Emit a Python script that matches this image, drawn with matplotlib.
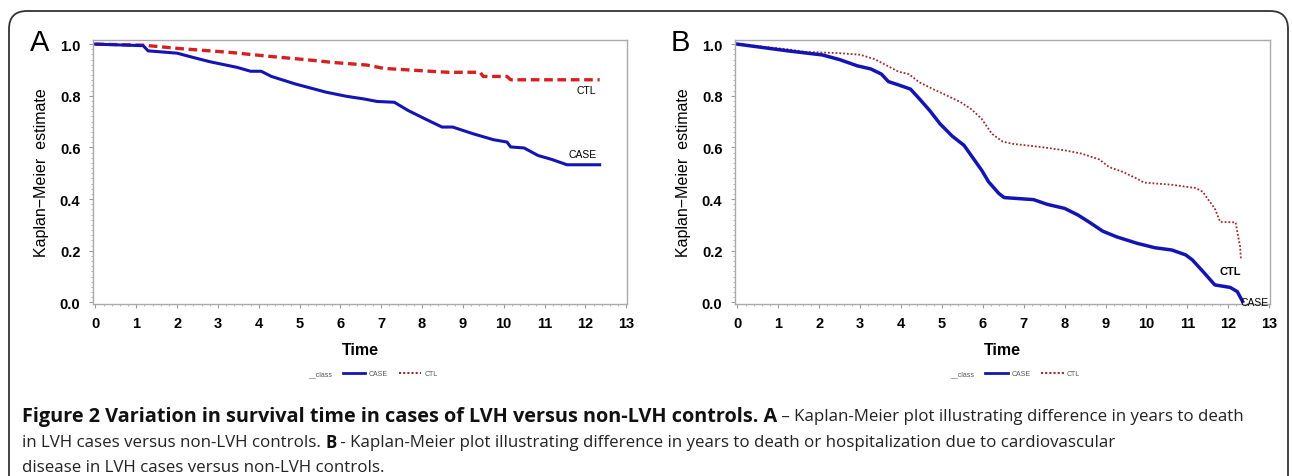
import matplotlib
matplotlib.use("Agg")
import matplotlib.pyplot as plt
from matplotlib.patches import FancyBboxPatch
from matplotlib.transforms import IdentityTransform
from matplotlib.lines import Line2D
from matplotlib.ticker import MultipleLocator

# ---------------- data ----------------
a_case_t = [0, 1.17, 1.29, 2.0, 2.38, 2.8, 3.47, 3.8, 4.06, 4.31, 4.89, 5.65, 6.15, 6.57, 6.9, 7.32,
            7.66, 8.16, 8.49, 8.75, 9.25, 9.75, 10.08, 10.17, 10.5, 10.84, 11.17, 11.55, 12.35]
a_case_s = [1.0, 0.994, 0.974, 0.965, 0.949, 0.932, 0.91, 0.895, 0.895, 0.875, 0.846, 0.814, 0.798,
            0.788, 0.778, 0.775, 0.743, 0.704, 0.679, 0.679, 0.653, 0.63, 0.621, 0.602, 0.598, 0.569,
            0.554, 0.533, 0.533]
a_ctl_t = [0, 1.17, 2.05, 3.3, 4.31, 5.15, 5.82, 6.65, 7.07, 8.41, 8.66, 9.42, 9.5, 10.08, 10.17, 12.35]
a_ctl_s = [1.0, 0.996, 0.983, 0.968, 0.952, 0.94, 0.929, 0.919, 0.906, 0.893, 0.891, 0.891, 0.875,
           0.875, 0.862, 0.862]

b_case_t = [0, 1.23, 2.08, 2.5, 2.93, 3.26, 3.52, 3.69, 3.94, 4.23, 4.45, 4.7, 4.95, 5.25, 5.54, 5.8,
            5.97, 6.14, 6.39, 6.52, 7.24, 7.57, 8.0, 8.33, 8.59, 8.93, 9.27, 9.77, 10.2, 10.62, 10.96,
            11.12, 11.38, 11.67, 12.05, 12.22, 12.35]
b_case_s = [1.0, 0.974, 0.958, 0.94, 0.916, 0.904, 0.884, 0.855, 0.842, 0.826, 0.788, 0.743, 0.692,
            0.644, 0.608, 0.55, 0.512, 0.467, 0.422, 0.406, 0.398, 0.38, 0.364, 0.338, 0.312, 0.276,
            0.254, 0.229, 0.212, 0.203, 0.184, 0.165, 0.12, 0.068, 0.058, 0.042, 0.004]
b_ctl_t = [0, 1.23, 1.66, 2.5, 3.0, 3.35, 3.69, 3.94, 4.19, 4.45, 4.78, 5.04, 5.46, 5.71, 5.97, 6.22,
           6.48, 6.73, 7.4, 8.0, 8.42, 8.84, 9.09, 9.43, 9.77, 9.94, 10.6, 11.2, 11.38, 11.55, 11.67,
           11.8, 12.18, 12.22, 12.29, 12.31]
b_ctl_s = [1.0, 0.98, 0.97, 0.965, 0.959, 0.942, 0.914, 0.893, 0.884, 0.852, 0.826, 0.807, 0.775,
           0.749, 0.711, 0.653, 0.623, 0.614, 0.602, 0.589, 0.576, 0.554, 0.524, 0.505, 0.479, 0.464,
           0.456, 0.443, 0.428, 0.389, 0.364, 0.312, 0.31, 0.274, 0.216, 0.165]

x_ticks = list(range(0, 14))
y_ticks = [0.0, 0.2, 0.4, 0.6, 0.8, 1.0]
y_ticklabels = ["0.0", "0.2", "0.4", "0.6", "0.8", "1.0"]

caption_bold = "Figure 2 Variation in survival time in cases of LVH versus non-LVH controls. A"
caption_rest1 = " \u2013 Kaplan-Meier plot illustrating difference in years to death"
caption_line2a = "in LVH cases versus non-LVH controls. "
caption_line2b = "B"
caption_line2c = " - Kaplan-Meier plot illustrating difference in years to death or hospitalization due to cardiovascular"
caption_line3 = "disease in LVH cases versus non-LVH controls."

# ---------------- figure ----------------
W, H = 1292, 477
fig = plt.figure(figsize=(W / 100, H / 100), dpi=100)
fig.patch.set_facecolor("white")

frame = FancyBboxPatch((9, -40), 1279, 505, boxstyle="round,pad=0,rounding_size=18",
                       transform=IdentityTransform(), fill=False, edgecolor="#333333", lw=1.3)
fig.patches.append(frame)

BLUE = "#1414b4"
RED = "#d42020"
DKRED = "#9a2c2c"
TICKFONT = "Liberation Sans"


def style_axes(ax):
    ax.set_xlim(-0.06, 13.02)
    ax.set_ylim(-0.006, 1.016)
    ax.set_xticks(x_ticks)
    ax.set_xticklabels([str(t) for t in x_ticks], fontsize=10.5, fontweight="bold", family=TICKFONT)
    ax.set_yticks(y_ticks)
    ax.set_yticklabels(y_ticklabels, fontsize=10.5, fontweight="bold", family=TICKFONT)
    ax.xaxis.set_minor_locator(MultipleLocator(0.2))
    ax.yaxis.set_minor_locator(MultipleLocator(0.02))
    ax.tick_params(which="major", length=3, width=0.8, color="#999999", pad=6)
    ax.tick_params(which="minor", length=1.5, width=0.6, color="#aaaaaa")
    for s in ax.spines.values():
        s.set_color("#aaaaaa")
        s.set_linewidth(1.0)
    ax.set_xlabel("Time", fontsize=11.5, fontweight="bold", family=TICKFONT, labelpad=8)
    ax.set_ylabel("Kaplan\u2212Meier  estimate", fontsize=11.5, family=TICKFONT, labelpad=8)


# Panel A
axA = fig.add_axes([93 / W, 1 - 305 / H, 534 / W, 264 / H])
axA.plot(a_ctl_t, a_ctl_s, color=RED, lw=2.4, linestyle=(0, (2.6, 1.4)))
axA.plot(a_case_t, a_case_s, color=BLUE, lw=2.2)
style_axes(axA)
axA.text(12.03, 0.824, "CTL", fontsize=7.5, family=TICKFONT, ha="center", va="center")
axA.text(11.93, 0.573, "CASE", fontsize=7.5, family=TICKFONT, ha="center", va="center")

# Panel B
axB = fig.add_axes([735 / W, 1 - 305 / H, 535 / W, 264 / H])
axB.plot(b_ctl_t, b_ctl_s, color=DKRED, lw=1.3, linestyle=(0, (1, 1.1)))
axB.plot(b_case_t, b_case_s, color=BLUE, lw=2.5)
style_axes(axB)
axB.text(12.06, 0.12, "CTL", fontsize=8, fontweight="bold", family=TICKFONT, ha="center", va="center")
axB.text(12.65, 0.0, "CASE", fontsize=7.5, family=TICKFONT, ha="center", va="center")

# Panel letters
fig.text(30 / W, 1 - 43 / H, "A", fontsize=21, family=TICKFONT, va="center", ha="left")
fig.text(671 / W, 1 - 43 / H, "B", fontsize=21, family=TICKFONT, va="center", ha="left")

# Legends below axes
for ax in (axA, axB):
    handles = [Line2D([], [], color="none"),
               Line2D([], [], color=BLUE, lw=2),
               Line2D([], [], color=DKRED, lw=1.5, linestyle=(0, (1, 1)))]
    leg = ax.legend(handles, ["__class", "CASE", "CTL"], loc="center", bbox_to_anchor=(0.5, -0.265),
                    ncol=3, frameon=False, handlelength=3.2, handletextpad=0.5,
                    columnspacing=1.6, prop={"family": TICKFONT, "size": 5})
    for t in leg.get_texts():
        t.set_color("#555555")

# Caption
r = fig.canvas.get_renderer()
cfont = "Open Sans"
csize = 12.2
bsize = 14.3
y1 = 1 - 417 / H
t1 = fig.text(22 / W, y1, caption_bold, fontsize=bsize, fontweight="bold", family=cfont,
              va="center", ha="left", color="#111111")
bb = t1.get_window_extent(r)
fig.text(bb.x1 / W, y1, caption_rest1, fontsize=csize, family=cfont, va="center", ha="left", color="#222222")

y2 = 1 - 443 / H
t2 = fig.text(22 / W, y2, caption_line2a, fontsize=csize, family=cfont, va="center", ha="left", color="#222222")
bb = t2.get_window_extent(r)
t3 = fig.text(bb.x1 / W, y2, caption_line2b, fontsize=csize, fontweight="bold", family=cfont,
              va="center", ha="left", color="#111111")
bb = t3.get_window_extent(r)
fig.text(bb.x1 / W, y2, caption_line2c, fontsize=csize, family=cfont, va="center", ha="left", color="#222222")

y3 = 1 - 468 / H
fig.text(22 / W, y3, caption_line3, fontsize=csize, family=cfont, va="center", ha="left", color="#222222")

fig.savefig("out.png", dpi=100)
